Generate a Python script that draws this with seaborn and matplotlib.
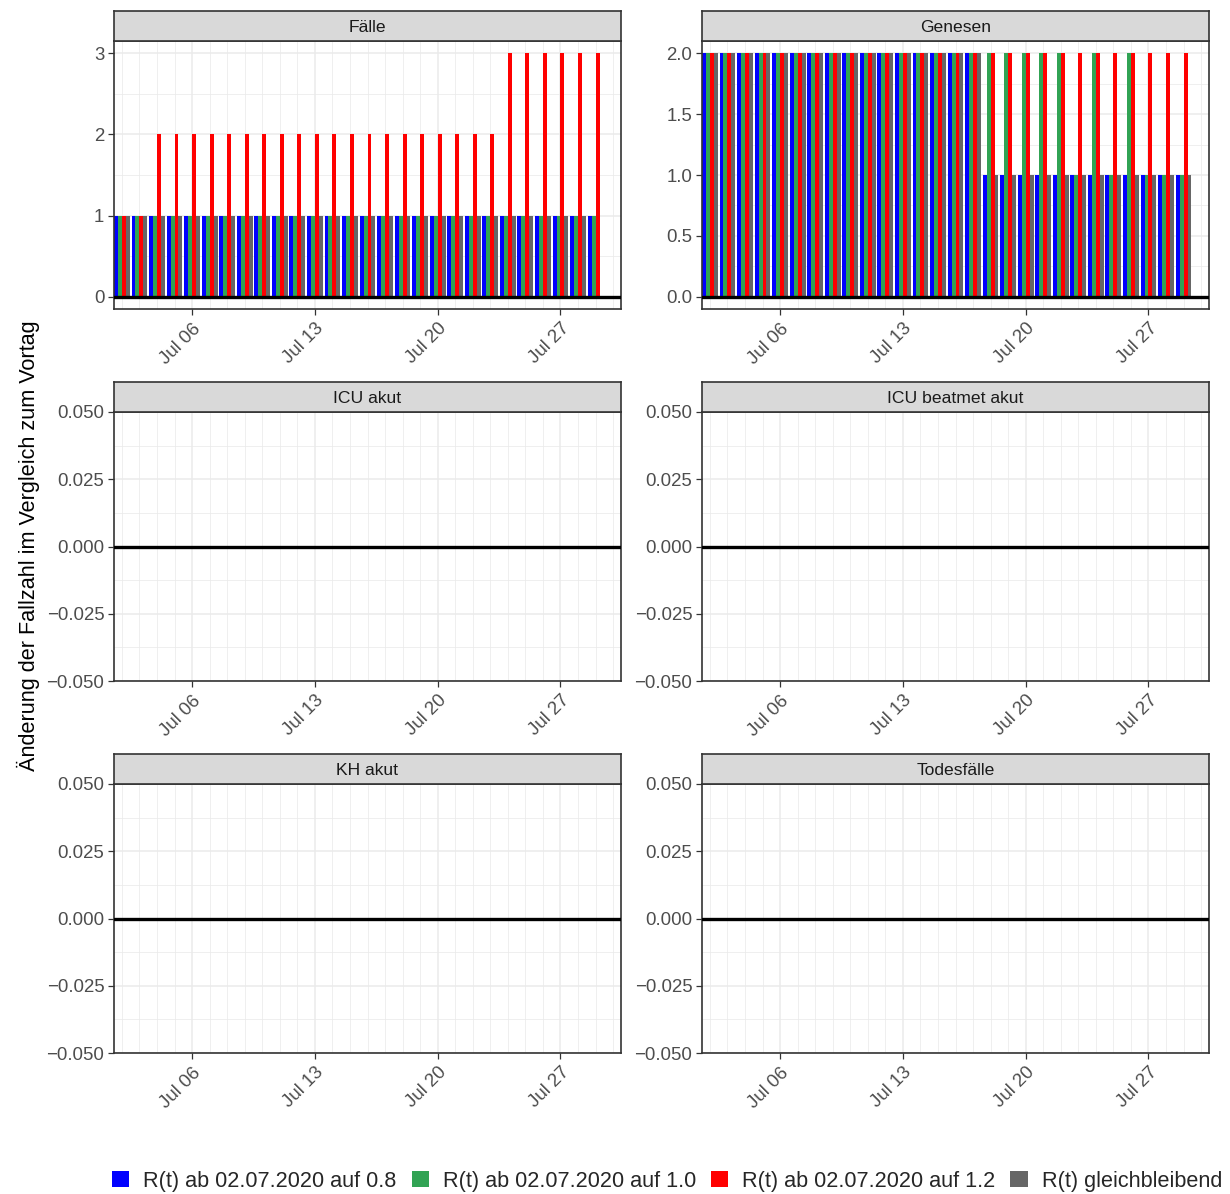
"""Tägliche Änderung der Fallzahlen je Szenario (Facetten-Balkendiagramm)."""
import matplotlib
matplotlib.use("Agg")
import numpy as np
import pandas as pd
import matplotlib.pyplot as plt
import matplotlib.dates as mdates
from matplotlib.patches import Patch
from matplotlib.ticker import FixedLocator, FuncFormatter
import seaborn as sns

# --- Daten -------------------------------------------------------------
dates = pd.date_range("2020-07-02", "2020-07-30", freq="D")

scenarios = [
    "R(t) ab 02.07.2020 auf 0.8",
    "R(t) ab 02.07.2020 auf 1.0",
    "R(t) ab 02.07.2020 auf 1.2",
    "R(t) gleichbleibend",
]
colors = ["#0000FF", "#31A354", "#FF0000", "#666666"]

faelle_08 = [1, 1, 1, 1, 1, 1, 1, 1, 1, 1, 1, 1, 1, 1, 1, 1, 1, 1, 1, 1, 1, 1, 1, 1, 1, 1, 1, 1, 0]
faelle_10 = [1, 1, 1, 1, 1, 1, 1, 1, 1, 1, 1, 1, 1, 1, 1, 1, 1, 1, 1, 1, 1, 1, 1, 1, 1, 1, 1, 1, 0]
faelle_12 = [1, 1, 2, 2, 2, 2, 2, 2, 2, 2, 2, 2, 2, 2, 2, 2, 2, 2, 2, 2, 2, 2, 3, 3, 3, 3, 3, 3, 0]
faelle_konst = [1, 1, 1, 1, 1, 1, 1, 1, 1, 1, 1, 1, 1, 1, 1, 1, 1, 1, 1, 1, 1, 1, 1, 1, 1, 1, 1, 0, 0]

genesen_08 = [2, 2, 2, 2, 2, 2, 2, 2, 2, 2, 2, 2, 2, 2, 2, 2, 1, 1, 1, 1, 1, 1, 1, 1, 1, 1, 1, 1, 0]
genesen_10 = [2, 2, 2, 2, 2, 2, 2, 2, 2, 2, 2, 2, 2, 2, 2, 2, 2, 2, 2, 2, 2, 1, 2, 1, 2, 1, 1, 1, 0]
genesen_12 = [2, 2, 2, 2, 2, 2, 2, 2, 2, 2, 2, 2, 2, 2, 2, 2, 2, 2, 2, 2, 2, 2, 2, 2, 2, 2, 2, 2, 0]
genesen_konst = [2, 2, 2, 2, 2, 2, 2, 2, 2, 2, 2, 2, 2, 2, 2, 2, 1, 1, 1, 1, 1, 1, 1, 1, 1, 1, 1, 1, 0]

null_werte = [0, 0, 0, 0, 0, 0, 0, 0, 0, 0, 0, 0, 0, 0, 0, 0, 0, 0, 0, 0, 0, 0, 0, 0, 0, 0, 0, 0, 0]

panels = {
    "Fälle": [faelle_08, faelle_10, faelle_12, faelle_konst],
    "Genesen": [genesen_08, genesen_10, genesen_12, genesen_konst],
    "ICU akut": [null_werte] * 4,
    "ICU beatmet akut": [null_werte] * 4,
    "KH akut": [null_werte] * 4,
    "Todesfälle": [null_werte] * 4,
}

y_ticks = {
    "Fälle": [0, 1, 2, 3],
    "Genesen": [0.0, 0.5, 1.0, 1.5, 2.0],
}
zero_ticks = [-0.05, -0.025, 0.0, 0.025, 0.05]

# --- Layout (Pixel) ----------------------------------------------------
W, H = 1230, 1194
col_x = [(114, 621), (702, 1209)]
row_y = [(11, 41, 309), (382, 412, 681), (754, 784, 1053)]


def fig_rect(x0, y0, x1, y1):
    return [x0 / W, 1 - y1 / H, (x1 - x0) / W, (y1 - y0) / H]


sns.set_theme(style="white")
plt.rcParams["font.family"] = ["Liberation Sans", "DejaVu Sans"]

fig = plt.figure(figsize=(W / 100, H / 100), dpi=100)

xnum = mdates.date2num(dates)
palette = dict(zip(scenarios, colors))
major_days = mdates.date2num(pd.to_datetime(["2020-07-06", "2020-07-13", "2020-07-20", "2020-07-27"]))

for i, (name, series) in enumerate(panels.items()):
    r, c = divmod(i, 2)
    x0, x1 = col_x[c]
    ys, yp0, yp1 = row_y[r]

    df = pd.DataFrame({
        "x": np.tile(xnum, 4),
        "wert": np.concatenate([np.asarray(s, dtype=float) for s in series]),
        "szenario": np.repeat(scenarios, len(xnum)),
    })

    ax = fig.add_axes(fig_rect(x0, yp0, x1, yp1))
    sns.barplot(data=df, x="x", y="wert", hue="szenario", hue_order=scenarios,
                palette=palette, native_scale=True, width=0.9, errorbar=None,
                saturation=1, linewidth=0, legend=False, ax=ax, zorder=2)
    ax.axhline(0, color="black", lw=2.4, zorder=3)

    # x-Achse
    ax.set_xlim(xnum[0] - 0.45, xnum[-1] + 0.45)
    ax.xaxis.set_major_locator(FixedLocator(major_days))
    ax.xaxis.set_minor_locator(FixedLocator(xnum))
    ax.xaxis.set_major_formatter(mdates.DateFormatter("%b %d"))
    for lab in ax.get_xticklabels():
        lab.set_rotation(45)
        lab.set_ha("right")
        lab.set_va("top")
        lab.set_rotation_mode("anchor")

    # y-Achse
    if name in y_ticks:
        t = y_ticks[name]
        span = t[-1] - t[0]
        ax.set_ylim(t[0] - 0.05 * span, t[-1] + 0.05 * span)
        ax.yaxis.set_major_locator(FixedLocator(t))
        step = t[1] - t[0]
        ax.yaxis.set_minor_locator(FixedLocator(np.arange(t[0] + step / 2, t[-1], step)))
        fmt = "{:.0f}" if name == "Fälle" else "{:.1f}"
        ax.yaxis.set_major_formatter(FuncFormatter(lambda v, p, f=fmt: f.format(v)))
    else:
        ax.set_ylim(-0.05, 0.05)
        ax.yaxis.set_major_locator(FixedLocator(zero_ticks))
        ax.yaxis.set_minor_locator(FixedLocator([-0.0375, -0.0125, 0.0125, 0.0375]))
        ax.yaxis.set_major_formatter(
            FuncFormatter(lambda v, p: f"{v:.3f}".replace("-", "\u2212")))

    ax.set_xlabel("")
    ax.set_ylabel("")
    ax.grid(which="major", color="#EBEBEB", lw=1.1, zorder=0)
    ax.grid(which="minor", color="#EBEBEB", lw=0.55, zorder=0)
    ax.set_axisbelow(True)
    ax.tick_params(axis="both", which="major", length=4, width=0.9, color="#333333",
                   labelsize=13.4, labelcolor="#4D4D4D", direction="out",
                   bottom=True, left=True)
    ax.tick_params(axis="both", which="minor", length=0)
    ax.tick_params(axis="x", pad=4)
    ax.tick_params(axis="y", pad=3)
    for sp in ax.spines.values():
        sp.set_color("#333333")
        sp.set_linewidth(1.2)
        sp.set_visible(True)

    # Streifen mit Facettentitel
    sax = fig.add_axes(fig_rect(x0, ys, x1, yp0))
    sax.set_facecolor("#D9D9D9")
    sax.set_xticks([])
    sax.set_yticks([])
    for sp in sax.spines.values():
        sp.set_color("#333333")
        sp.set_linewidth(1.2)
        sp.set_visible(True)
    sax.text(0.5, 0.45, name, ha="center", va="center", fontsize=12.6,
             color="#1A1A1A", transform=sax.transAxes)

fig.text(28 / W, 1 - 546 / H, "Änderung der Fallzahl im Vergleich zum Vortag",
         rotation=90, ha="center", va="center", fontsize=15.6, color="black")

handles = [Patch(facecolor=c, edgecolor="none") for c in colors]
fig.legend(handles, scenarios, loc="center left", bbox_to_anchor=(112 / W, 1 - 1181 / H),
           ncol=4, frameon=False, fontsize=15.6, handlelength=0.8, handleheight=0.8,
           handletextpad=0.65, columnspacing=0.68, borderaxespad=0, borderpad=0)

fig.savefig("out.png", dpi=100)
plt.close(fig)
